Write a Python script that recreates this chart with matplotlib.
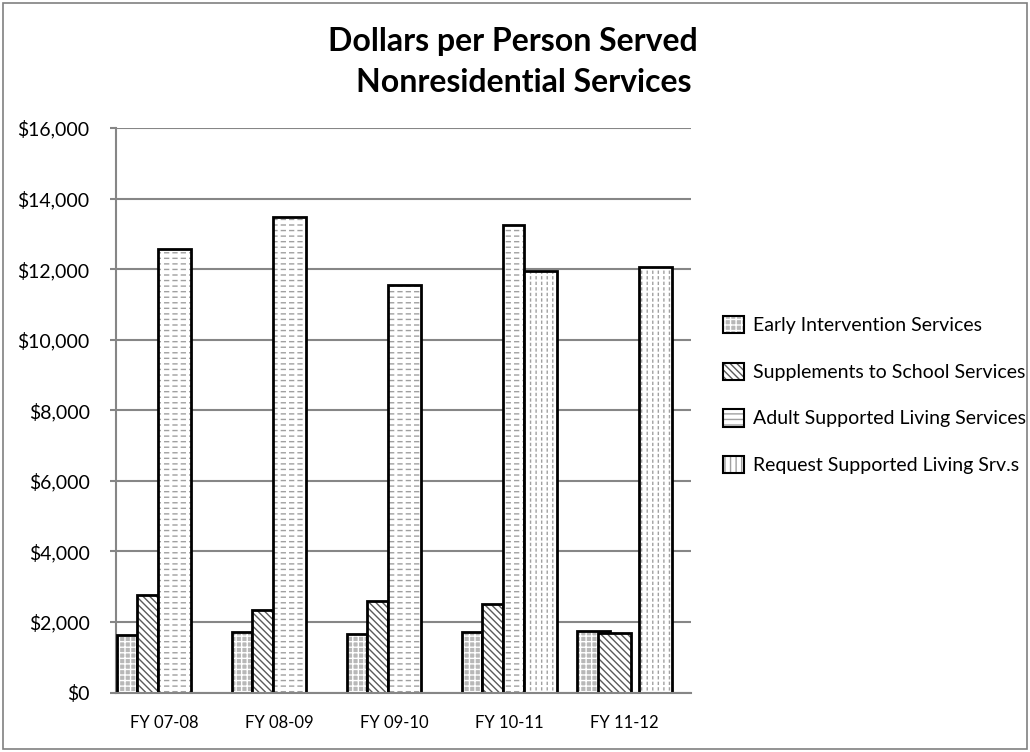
import numpy as np
import matplotlib
matplotlib.use("Agg")
import matplotlib.pyplot as plt
from matplotlib.patches import Rectangle, Patch
from matplotlib.ticker import FuncFormatter

# ---------------- data ----------------
categories = ["FY 07-08", "FY 08-09", "FY 09-10", "FY 10-11", "FY 11-12"]
series_names = ["Early Intervention Services", "Supplements to School Services",
                "Adult Supported Living Services", "Request Supported Living Srv.s"]
early_intervention = [1640, 1715, 1660, 1725, 1750]
supplements_school = [2775, 2350, 2595, 2500, 1695]
adult_supported = [12580, 13490, 11560, 13245, np.nan]
request_supported = [np.nan, np.nan, np.nan, 11940, 12060]
y_ticks = [0, 2000, 4000, 6000, 8000, 10000, 12000, 14000, 16000]

values = [early_intervention, supplements_school, adult_supported, request_supported]

# ---------------- layout (offset, width within category) ----------------
N, W = 0.18, 0.282
layout = [
    [(0.006, N), (0.186, N), (0.366, W), None],
    [(0.006, N), (0.186, N), (0.366, W), None],
    [(0.006, N), (0.186, N), (0.366, W), None],
    [(0.006, N), (0.186, N), (0.366, N), (0.55, W)],
    [(0.006, 0.29), (0.194, W), None, (0.55, W)],
]
styles = [
    dict(facecolor="#b8b8b8", hatch="+++", hatchcol="white", breaker=None),
    dict(facecolor="white", hatch="\\" * 5, hatchcol="#5a5a5a", breaker=None),
    dict(facecolor="white", hatch="---", hatchcol="#a0a0a0", breaker=("||", 2.2)),
    dict(facecolor="white", hatch="|||", hatchcol="#a0a0a0", breaker=("---", 1.6)),
]

plt.rcParams["font.family"] = ["Lato", "DejaVu Sans"]
plt.rcParams["hatch.linewidth"] = 1.0

PER_ARTIST_HATCH_LW = hasattr(Patch, "set_hatch_linewidth")

fig = plt.figure(figsize=(10.30, 7.52), dpi=100)
ax = fig.add_axes([116 / 1030, (752 - 692.5) / 752, 575 / 1030, 564.5 / 752])

for s, (vals, st) in enumerate(zip(values, styles)):
    xs, ws, hs = [], [], []
    for c, v in enumerate(vals):
        lay = layout[c][s]
        if lay is None or np.isnan(v):
            continue
        xs.append(c + lay[0])
        ws.append(lay[1])
        hs.append(v)
    ax.bar(xs, hs, width=ws, align="edge", facecolor=st["facecolor"],
           hatch=st["hatch"], edgecolor=st["hatchcol"], linewidth=0, zorder=3 + 3 * s)
    if st["breaker"] is not None and PER_ARTIST_HATCH_LW:
        bk = ax.bar(xs, hs, width=ws, align="edge", facecolor="none",
                    hatch=st["breaker"][0], edgecolor="white", linewidth=0, zorder=3.5 + 3 * s)
        for p in bk:
            p.set_hatch_linewidth(st["breaker"][1])
    ax.bar(xs, hs, width=ws, align="edge", facecolor="none",
           edgecolor="black", linewidth=2.0, zorder=4 + 3 * s)

ax.set_xlim(0, 5)
ax.set_ylim(0, 16000)
ax.set_yticks(y_ticks)
ax.yaxis.set_major_formatter(FuncFormatter(lambda v, p: "${:,.0f}".format(v)))
ax.set_xticks(np.arange(len(categories)) + 0.42)
ax.set_xticklabels(categories)
ax.grid(axis="y", color="#868686", linewidth=1.5, zorder=1)
ax.set_axisbelow(True)
for sp in ["top", "right"]:
    ax.spines[sp].set_visible(False)
ax.spines["left"].set_color("#868686")
ax.spines["left"].set_linewidth(1.5)
ax.spines["bottom"].set_color("#868686")
ax.spines["bottom"].set_linewidth(1.5)
ax.spines["bottom"].set_zorder(30)
ax.tick_params(axis="y", length=4, color="#868686", width=1.5, pad=15, labelsize=14)
ax.tick_params(axis="x", length=0, pad=16, labelsize=12)

fig.text(513 / 1030, 1 - 42 / 752, "Dollars per Person Served", ha="center", va="center",
         fontsize=23, fontweight="bold")
fig.text(524 / 1030, 1 - 82 / 752, "Nonresidential Services", ha="center", va="center",
         fontsize=23, fontweight="bold")

handles = []
for st in styles:
    h1 = Patch(facecolor=st["facecolor"], hatch=st["hatch"], edgecolor=st["hatchcol"], linewidth=0)
    h2 = Patch(facecolor="none", edgecolor="black", linewidth=1.5)
    handles.append((h1, h2))
fig.legend(handles, series_names, loc="center left", bbox_to_anchor=(723 / 1030, (752 - 395) / 752),
           frameon=False, fontsize=14, handlelength=1.08, handleheight=1.0,
           handletextpad=0.46, labelspacing=1.45, borderaxespad=0, borderpad=0)

fig.patches.append(Rectangle((0.003, 0.004), 0.994, 0.992, transform=fig.transFigure,
                             fill=False, edgecolor="#808080", linewidth=1.2))

fig.savefig("out.png", dpi=100)
